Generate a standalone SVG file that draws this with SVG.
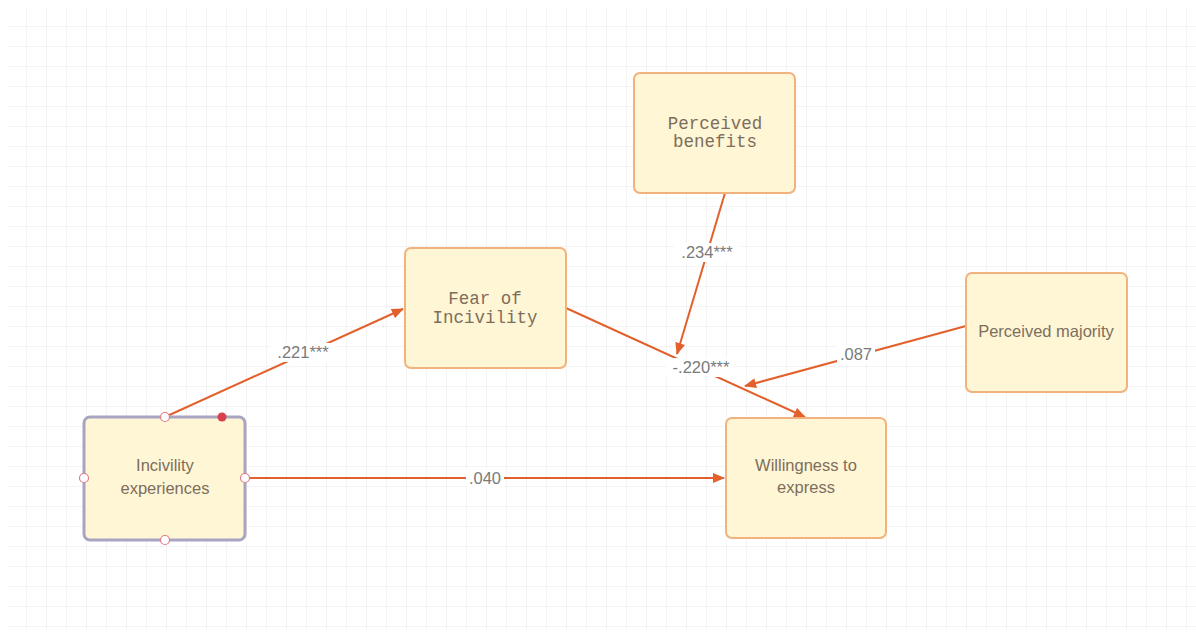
<svg xmlns="http://www.w3.org/2000/svg" width="1196" height="640" viewBox="0 0 1196 640">
<defs>
<pattern id="grid" x="7" y="7" width="20" height="20" patternUnits="userSpaceOnUse">
<path d="M20 0V20M0 20H20" fill="none" stroke="#e8e8e8" stroke-width="1"/>
</pattern>
<marker id="arr" viewBox="0 0 12 10" refX="11" refY="5" markerWidth="13" markerHeight="10" markerUnits="userSpaceOnUse" orient="auto">
<path d="M0 0L12 5L0 10z" fill="#e2602c"/>
</marker>
</defs>
<style>
.node{fill:#fff6d6;stroke:#f1b27e;stroke-width:2}
.sans{font-family:"Liberation Sans",Arial,sans-serif;font-size:16.5px;fill:#7d6e5c;text-anchor:middle}
.mono{font-family:"Liberation Mono","Courier New",monospace;font-size:17.5px;fill:#7d6e5c;text-anchor:middle}
.edge{fill:none;stroke:#e2602c;stroke-width:2}
.lbl{font-family:"Liberation Sans",Arial,sans-serif;font-size:16.5px;fill:#7a7a7a;text-anchor:middle}
.lblbg{fill:#ffffff}
.handle{fill:#ffffff;stroke:#e07a8a;stroke-width:1.2}
</style>
<rect width="1196" height="640" fill="#ffffff"/>
<rect x="7" y="7" width="1189" height="623" fill="url(#grid)"/>
<g id="connectors">
<path class="edge" d="M165 417L403 309" marker-end="url(#arr)"/>
<path class="edge" d="M245 478L724 478" marker-end="url(#arr)"/>
<path class="edge" d="M566 308L805 417" marker-end="url(#arr)"/>
<path class="edge" d="M725 193L677 354" marker-end="url(#arr)"/>
<path class="edge" d="M966 326L745 386" marker-end="url(#arr)"/>
<rect class="lblbg" x="271" y="343" width="64" height="19"/>
<text class="lbl" x="303" y="358">.221***</text>
<rect class="lblbg" x="466" y="469" width="38" height="18"/>
<text class="lbl" x="485" y="484">.040</text>
<rect class="lblbg" x="666" y="358" width="70" height="19"/>
<text class="lbl" x="701" y="373">-.220***</text>
<rect class="lblbg" x="674" y="243" width="66" height="19"/>
<text class="lbl" x="707" y="258">.234***</text>
<rect class="lblbg" x="837" y="345" width="38" height="18"/>
<text class="lbl" x="856" y="360">.087</text>
</g>
<g id="node-incivility">
<rect class="node" x="84" y="417" width="161" height="123" rx="6" style="stroke:#a8a4c2;stroke-width:3"/>
<text class="sans"><tspan x="165" y="471">Incivility</tspan><tspan x="165" y="494">experiences</tspan></text>
<circle class="handle" cx="165" cy="417" r="4.5"/>
<circle class="handle" cx="84" cy="478" r="4.5"/>
<circle class="handle" cx="245" cy="478" r="4.5"/>
<circle class="handle" cx="165" cy="540" r="4.5"/>
<circle cx="222" cy="417" r="4.5" fill="#d8404e"/>
</g>
<g id="node-fear">
<rect class="node" x="405" y="248" width="161" height="120" rx="6"/>
<text class="mono"><tspan x="485" y="304">Fear of</tspan><tspan x="485" y="323">Incivility</tspan></text>
</g>
<g id="node-benefits">
<rect class="node" x="634" y="73" width="161" height="120" rx="6"/>
<text class="mono"><tspan x="715" y="129">Perceived</tspan><tspan x="715" y="147">benefits</tspan></text>
</g>
<g id="node-majority">
<rect class="node" x="966" y="273" width="161" height="119" rx="6"/>
<text class="sans" x="1046" y="337">Perceived majority</text>
</g>
<g id="node-willingness">
<rect class="node" x="726" y="418" width="160" height="120" rx="6"/>
<text class="sans"><tspan x="806" y="471">Willingness to</tspan><tspan x="806" y="493">express</tspan></text>
</g>
</svg>
